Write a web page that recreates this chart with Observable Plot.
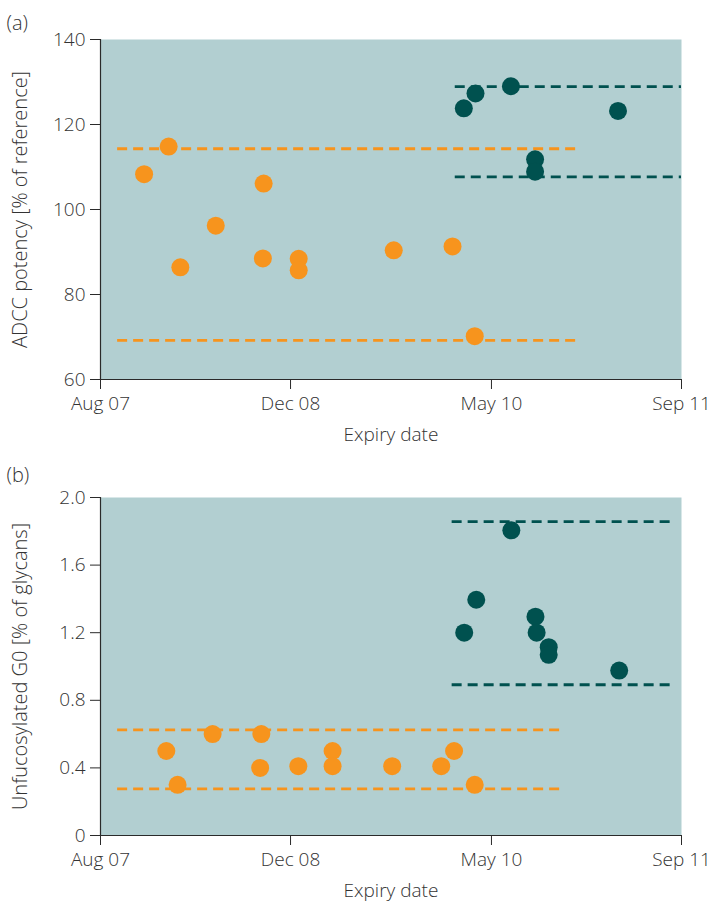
<!DOCTYPE html>
<html><head><meta charset="utf-8">
<script src="https://cdn.jsdelivr.net/npm/d3@7"></script>
<script src="https://cdn.jsdelivr.net/npm/@observablehq/plot@0.6"></script>
<style>
body{margin:0;background:#fff;}
#chart{width:712px;}
#chart svg{display:block;}
</style></head><body><div id="chart"></div>
<script>
// ---- shared x axis ----
const xDomain = ["2007-08-01", "2011-09-01"];
const xTickDates = ["2007-08-01", "2008-12-01", "2010-05-01", "2011-09-01"];
const xLabel = "Expiry date";

// ---- panel (a): ADCC potency ----
const aYLabel = "ADCC potency [% of reference]";
const aYTicks = [60, 80, 100, 120, 140];
const aOrangeDates  = ["2007-11-21","2008-01-23","2008-02-22","2008-05-23","2008-09-23","2008-09-21","2008-12-22","2008-12-22","2009-08-23","2010-01-21","2010-03-19"];
const aOrangeValues = [108.3, 114.8, 86.4, 96.2, 106.1, 88.5, 88.4, 85.7, 90.4, 91.3, 70.2];
const aTealDates  = ["2010-02-19","2010-03-21","2010-06-20","2010-08-21","2010-08-21","2011-03-22"];
const aTealValues = [123.8, 127.3, 129.0, 111.8, 108.9, 123.2];
const aOrangeLimits = [114.3, 69.2];
const aOrangeLimitSpan = ["2007-09-14", "2010-12-15"];
const aTealLimits = [128.9, 107.7];
const aTealLimitSpan = ["2010-01-28", "2011-09-01"];

// ---- panel (b): Unfucosylated G0 ----
const bYLabel = "Unfucosylated G0 [% of glycans]";
const bYTicks = [0, 0.4, 0.8, 1.2, 1.6, 2.0];
const bOrangeDates  = ["2008-01-17","2008-02-15","2008-05-15","2008-09-17","2008-09-14","2008-12-21","2009-03-19","2009-03-19","2009-08-19","2009-12-23","2010-01-25","2010-03-19"];
const bOrangeValues = [0.50, 0.30, 0.60, 0.60, 0.40, 0.41, 0.50, 0.41, 0.41, 0.41, 0.50, 0.30];
const bTealDates  = ["2010-02-20","2010-03-23","2010-06-21","2010-08-22","2010-08-25","2010-09-25","2010-09-25","2011-03-25"];
const bTealValues = [1.20, 1.395, 1.806, 1.295, 1.20, 1.114, 1.069, 0.976];
const bOrangeLimits = [0.625, 0.276];
const bOrangeLimitSpan = ["2007-09-14", "2010-11-02"];
const bTealLimits = [1.857, 0.892];
const bTealLimitSpan = ["2010-01-20", "2011-08-09"];

// ---- styling ----
const ORANGE = "#f7941d";
const TEAL = "#00514f";
const BG = "#b2cfd1";
const TEXT = "#333333";
const AXIS = "#2a2a2a";
const FONT = "'Open Sans', sans-serif";

const D = s => new Date(s);

function panel(cfg) {
  const orange = cfg.orangeDates.map((d, i) => ({date: D(d), value: cfg.orangeValues[i]}));
  const teal = cfg.tealDates.map((d, i) => ({date: D(d), value: cfg.tealValues[i]}));
  const oLim = cfg.orangeLimits.map(v => ({value: v, x1: D(cfg.orangeSpan[0]), x2: D(cfg.orangeSpan[1])}));
  const tLim = cfg.tealLimits.map(v => ({value: v, x1: D(cfg.tealSpan[0]), x2: D(cfg.tealSpan[1])}));
  return Plot.plot({
    width: 712,
    height: 456,
    marginTop: cfg.marginTop,
    marginBottom: 77,
    marginLeft: 100,
    marginRight: 31,
    style: {fontFamily: FONT, fontSize: "19px", fontWeight: 300, color: TEXT, background: "white"},
    x: {type: "utc", domain: xDomain.map(D), label: null},
    y: {domain: cfg.yDomain, label: null},
    marks: [
      Plot.frame({fill: BG, stroke: "none"}),
      Plot.ruleY(oLim, {y: "value", x1: "x1", x2: "x2", stroke: ORANGE, strokeWidth: 2.8, strokeDasharray: "10,6"}),
      Plot.ruleY(tLim, {y: "value", x1: "x1", x2: "x2", stroke: TEAL, strokeWidth: 2.8, strokeDasharray: "10,6"}),
      Plot.dot(orange, {x: "date", y: "value", r: 9, fill: ORANGE}),
      Plot.dot(teal, {x: "date", y: "value", r: 9, fill: TEAL}),
      Plot.ruleX([D(xDomain[0])], {stroke: AXIS, strokeWidth: 1.2}),
      Plot.ruleY([cfg.yDomain[0]], {stroke: AXIS, strokeWidth: 1.2}),
      Plot.axisY({ticks: cfg.yTicks, tickSize: 10, tickPadding: 5, tickFormat: cfg.yFormat, label: null, stroke: AXIS, fill: TEXT}),
      Plot.axisX({ticks: xTickDates.map(D), tickSize: 10, tickPadding: 7, tickFormat: d3.utcFormat("%b %y"), label: null, stroke: AXIS, fill: TEXT}),
      Plot.text([cfg.yLabel], {frameAnchor: "left", dx: -80, rotate: -90, textAnchor: "middle", fontSize: 20, fill: TEXT}),
      Plot.text([xLabel], {frameAnchor: "bottom", dy: 61, textAnchor: "middle", fontSize: 19, fill: TEXT}),
      Plot.text([cfg.panelLabel], {frameAnchor: "top-left", dx: -94, dy: cfg.labelDy, textAnchor: "start", fontSize: 20, fill: TEXT})
    ]
  });
}

const chart = document.getElementById("chart");
chart.append(panel({
  marginTop: 39, yDomain: [60, 140], yTicks: aYTicks, yFormat: d => String(d), yLabel: aYLabel,
  orangeDates: aOrangeDates, orangeValues: aOrangeValues, tealDates: aTealDates, tealValues: aTealValues,
  orangeLimits: aOrangeLimits, orangeSpan: aOrangeLimitSpan, tealLimits: aTealLimits, tealSpan: aTealLimitSpan,
  panelLabel: "(a)", labelDy: -24
}));
chart.append(panel({
  marginTop: 41, yDomain: [0, 2], yTicks: bYTicks, yFormat: d => d === 0 ? "0" : d.toFixed(1), yLabel: bYLabel,
  orangeDates: bOrangeDates, orangeValues: bOrangeValues, tealDates: bTealDates, tealValues: bTealValues,
  orangeLimits: bOrangeLimits, orangeSpan: bOrangeLimitSpan, tealLimits: bTealLimits, tealSpan: bTealLimitSpan,
  panelLabel: "(b)", labelDy: -29.5
}));
</script></body></html>
